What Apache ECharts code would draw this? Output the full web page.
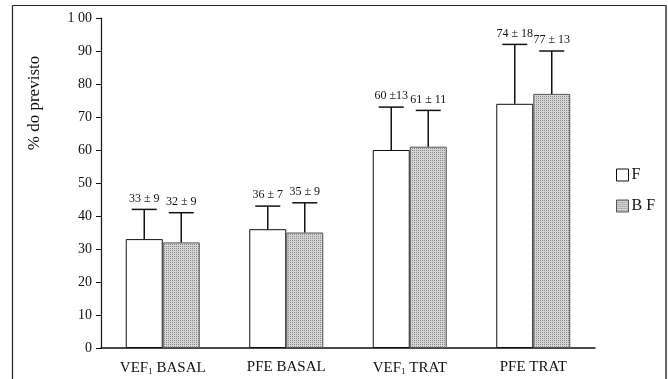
<!DOCTYPE html>
<html><head><meta charset="utf-8">
<script src="https://cdn.jsdelivr.net/npm/echarts@6/dist/echarts.min.js"></script>
<style>html,body{margin:0;padding:0;background:#fff}#c{width:668px;height:379px}</style>
</head><body><div id="c"></div>
<script>
const categories = ['VEF₁ BASAL', 'PFE BASAL', 'VEF₁ TRAT', 'PFE TRAT'];
const seriesNames = ['F', 'B F'];
const valuesF = [33, 36, 60, 74];
const sdF = [9, 7, 13, 18];
const labelsF = ['33 ± 9', '36 ± 7', '60 ±13', '74 ± 18'];
const valuesBF = [32, 35, 61, 77];
const sdBF = [9, 9, 11, 13];
const labelsBF = ['32 ± 9', '35 ± 9', '61 ± 11', '77 ± 13'];
const yTicks = [0, 10, 20, 30, 40, 50, 60, 70, 80, 90, 100];

const FONT = 'Liberation Serif';
const BW = 37;

// dotted pattern for BF bars
const pc = document.createElement('canvas');
pc.width = 2; pc.height = 2;
const px = pc.getContext('2d');
px.fillStyle = '#d4d4d4'; px.fillRect(0, 0, 2, 2);
px.fillStyle = '#8c8c8c'; px.fillRect(0, 0, 1, 1);
const pattern = { image: pc, repeat: 'repeat' };

function errData(vals, sds, labels) {
  return vals.map((v, i) => [i, v, sds[i], labels[i]]);
}
function errRender(offset, labels) {
  return function (params, api) {
    const i = api.value(0), v = api.value(1), sd = api.value(2);
    const p0 = api.coord([i, v]);
    const p1 = api.coord([i, v + sd]);
    const x = p0[0] + offset;
    const lbl = labels[params.dataIndex];
    return {
      type: 'group',
      children: [
        { type: 'line', shape: { x1: x, y1: p0[1], x2: x, y2: p1[1] }, style: { stroke: '#111', lineWidth: 1.5 } },
        { type: 'line', shape: { x1: x - 12.5, y1: p1[1], x2: x + 12.5, y2: p1[1] }, style: { stroke: '#111', lineWidth: 1.5 } },
        { type: 'text', x: x, y: p1[1] - 11, style: { text: lbl, fill: '#111', font: '12px ' + FONT, align: 'center', verticalAlign: 'middle' } }
      ]
    };
  };
}

const chart = echarts.init(document.getElementById('c'), null, { renderer: 'canvas' });
chart.setOption({
  animation: false,
  backgroundColor: '#fff',
  grid: { left: 101, right: 73, top: 18, bottom: 31 },
  legend: {
    orient: 'vertical', left: 611, top: 162, itemWidth: 12, itemHeight: 12, itemGap: 15,
    icon: 'rect',
    itemStyle: { borderWidth: 1 },
    data: seriesNames,
    textStyle: { fontFamily: FONT, fontSize: 16, color: '#111', padding: [0, 0, 0, -2] },
    selectedMode: false
  },
  xAxis: {
    type: 'category', data: categories,
    axisLine: { lineStyle: { color: '#111', width: 1.5 } },
    axisTick: { length: 4, lineStyle: { color: '#111' } },
    axisLabel: {
      margin: 12, color: '#111', interval: 0,
      formatter: function (s) {
        const parts = s.split('₁');
        if (parts.length === 1) return '{a|' + s + '}';
        return '{a|' + parts[0] + '}{s|1}{a|' + parts[1] + '}';
      },
      rich: {
        a: { fontFamily: FONT, fontSize: 15, color: '#111' },
        s: { fontFamily: FONT, fontSize: 9, color: '#111', verticalAlign: 'bottom', padding: [7, 0, 0, 0] }
      }
    }
  },
  yAxis: {
    type: 'value', min: 0, max: 100, interval: 10,
    splitLine: { show: false },
    axisLine: { show: true, lineStyle: { color: '#111', width: 1.2 } },
    axisTick: { show: true, length: 5, lineStyle: { color: '#111' } },
    axisLabel: {
      margin: 9, color: '#111', fontFamily: FONT, fontSize: 14,
      formatter: function (v) { return v === 100 ? '1 00' : String(v); }
    }
  },
  graphic: [
    { type: 'line', shape: { x1: 12.5, y1: 5.5, x2: 666, y2: 5.5 }, style: { stroke: '#222', lineWidth: 1.2 } },
    { type: 'line', shape: { x1: 12.5, y1: 5.5, x2: 12.5, y2: 379 }, style: { stroke: '#222', lineWidth: 1.2 } },
    { type: 'line', shape: { x1: 666, y1: 5, x2: 666, y2: 379 }, style: { stroke: '#666', lineWidth: 2 } },
    { type: 'text', x: 35, y: 103, rotation: Math.PI / 2, style: { text: '% do previsto', font: '17px ' + FONT, fill: '#111', align: 'center', verticalAlign: 'middle' } }
  ],
  series: [
    { name: 'F', type: 'bar', data: valuesF, barWidth: BW, barGap: '0%',
      itemStyle: { color: '#fff', borderColor: '#111', borderWidth: 1 } },
    { name: 'B F', type: 'bar', data: valuesBF, barWidth: BW, barGap: '0%',
      itemStyle: { color: pattern, borderColor: '#555', borderWidth: 1 } },
    { type: 'custom', data: errData(valuesF, sdF, labelsF), renderItem: errRender(-BW / 2, labelsF), z: 5, silent: true, encode: { x: 0, y: 1 } },
    { type: 'custom', data: errData(valuesBF, sdBF, labelsBF), renderItem: errRender(BW / 2, labelsBF), z: 5, silent: true, encode: { x: 0, y: 1 } }
  ]
});
</script></body></html>
